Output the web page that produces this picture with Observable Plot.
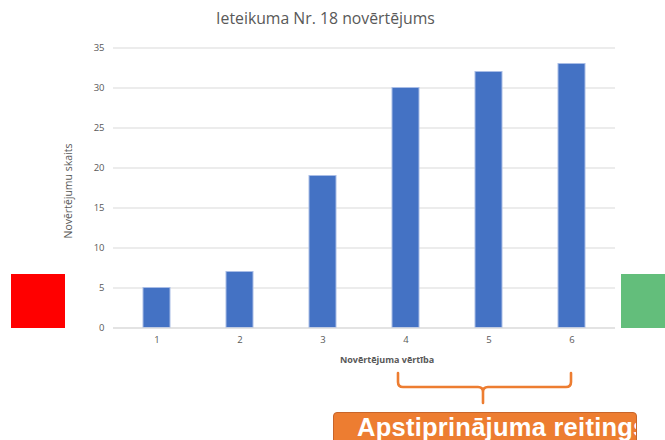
<!DOCTYPE html>
<html>
<head>
<meta charset="utf-8">
<script src="https://cdn.jsdelivr.net/npm/d3@7"></script>
<script src="https://cdn.jsdelivr.net/npm/@observablehq/plot@0.6"></script>
<style>
  html, body { margin: 0; padding: 0; background: #fff; }
  #wrap { position: relative; width: 665px; height: 440px; overflow: hidden; font-family: "Open Sans", sans-serif; }
  #wrap svg.plot { position: absolute; left: 0; top: 0; }
  .abs { position: absolute; white-space: nowrap; }
</style>
</head>
<body>
<div id="wrap"></div>
<script>
const categories = ["1", "2", "3", "4", "5", "6"];
const counts = [5, 7, 19, 30, 32, 33];
const yTicks = [0, 5, 10, 15, 20, 25, 30, 35];
const titleText = "Ieteikuma Nr. 18 novērtējums";
const xLabel = "Novērtējuma vērtība";
const yLabel = "Novērtējumu skaits";
const bracketLabel = "Apstiprinājuma reitings";

const data = categories.map((c, i) => ({ cat: c, n: counts[i] }));

const chart = Plot.plot({
  width: 665,
  height: 440,
  marginTop: 47.5,
  marginBottom: 112.5,
  marginLeft: 113,
  marginRight: 50,
  style: { fontFamily: "Open Sans, sans-serif", fontSize: "9.5px", color: "#595959", background: "transparent" },
  x: { domain: categories, paddingInner: 0.68, paddingOuter: 0.34, label: null },
  y: { domain: [0, 35], label: null },
  marks: [
    Plot.gridY(yTicks, { stroke: "#d9d9d9", strokeOpacity: 1, strokeWidth: 1 }),
    Plot.barY(data, { x: "cat", y: "n", fill: "#4472C4", stroke: "#a9bde6", strokeWidth: 1 }),
    Plot.ruleY([0], { stroke: "#d9d9d9", strokeWidth: 1.2 }),
    Plot.axisX({ tickSize: 0, tickPadding: 8, label: null, fill: "#595959" }),
    Plot.axisY(yTicks, { tickSize: 0, tickPadding: 9, label: null, fill: "#595959" })
  ]
});
chart.classList.add("plot");
const wrap = document.getElementById("wrap");
wrap.appendChild(chart);

function addDiv(text, css) {
  const d = document.createElement("div");
  d.className = "abs";
  d.textContent = text;
  Object.assign(d.style, css);
  wrap.appendChild(d);
  return d;
}

// Title
addDiv(titleText, { left: "0px", width: "651px", top: "7px", textAlign: "center", fontSize: "15.8px", color: "#595959" });
// X axis label
addDiv(xLabel, { left: "287px", width: "200px", top: "353px", textAlign: "center", fontSize: "9px", fontWeight: "bold", color: "#595959" });
// Y axis label (rotated)
addDiv(yLabel, { left: "8px", width: "120px", top: "184px", textAlign: "center", fontSize: "10.5px", color: "#595959", transform: "rotate(-90deg)", transformOrigin: "50% 50%" });

// Red and green squares
addDiv("", { left: "11px", top: "274px", width: "54px", height: "54px", background: "#ff0000" });
addDiv("", { left: "621px", top: "274px", width: "54px", height: "54px", background: "#63be7b" });

// Bracket
const ns = "http://www.w3.org/2000/svg";
const ov = document.createElementNS(ns, "svg");
ov.setAttribute("width", 665); ov.setAttribute("height", 440);
ov.style.position = "absolute"; ov.style.left = "0"; ov.style.top = "0";
const p = document.createElementNS(ns, "path");
p.setAttribute("d", "M398,373 L398,382 Q398,387 403,387 L478,387 Q483,387 483,392 L483,403 M483,392 Q483,387 488,387 L566,387 Q571,387 571,382 L571,373");
p.setAttribute("fill", "none");
p.setAttribute("stroke", "#ed7d31");
p.setAttribute("stroke-width", "2.6");
p.setAttribute("stroke-linecap", "round");
ov.appendChild(p);
wrap.appendChild(ov);

// Orange box with label
const box = document.createElement("div");
box.className = "abs";
Object.assign(box.style, {
  left: "333px", top: "412px", width: "302px", height: "40px",
  background: "#ed7d31", border: "1.5px solid #c8652a", borderRadius: "4px", overflow: "hidden"
});
const lbl = document.createElement("div");
lbl.textContent = bracketLabel;
Object.assign(lbl.style, {
  position: "absolute", left: "23px", top: "0px", whiteSpace: "nowrap",
  fontFamily: "Liberation Sans, Arial, sans-serif", fontWeight: "bold", fontSize: "25.5px", letterSpacing: "0.25px", color: "#ffffff"
});
box.appendChild(lbl);
wrap.appendChild(box);
</script>
</body>
</html>
